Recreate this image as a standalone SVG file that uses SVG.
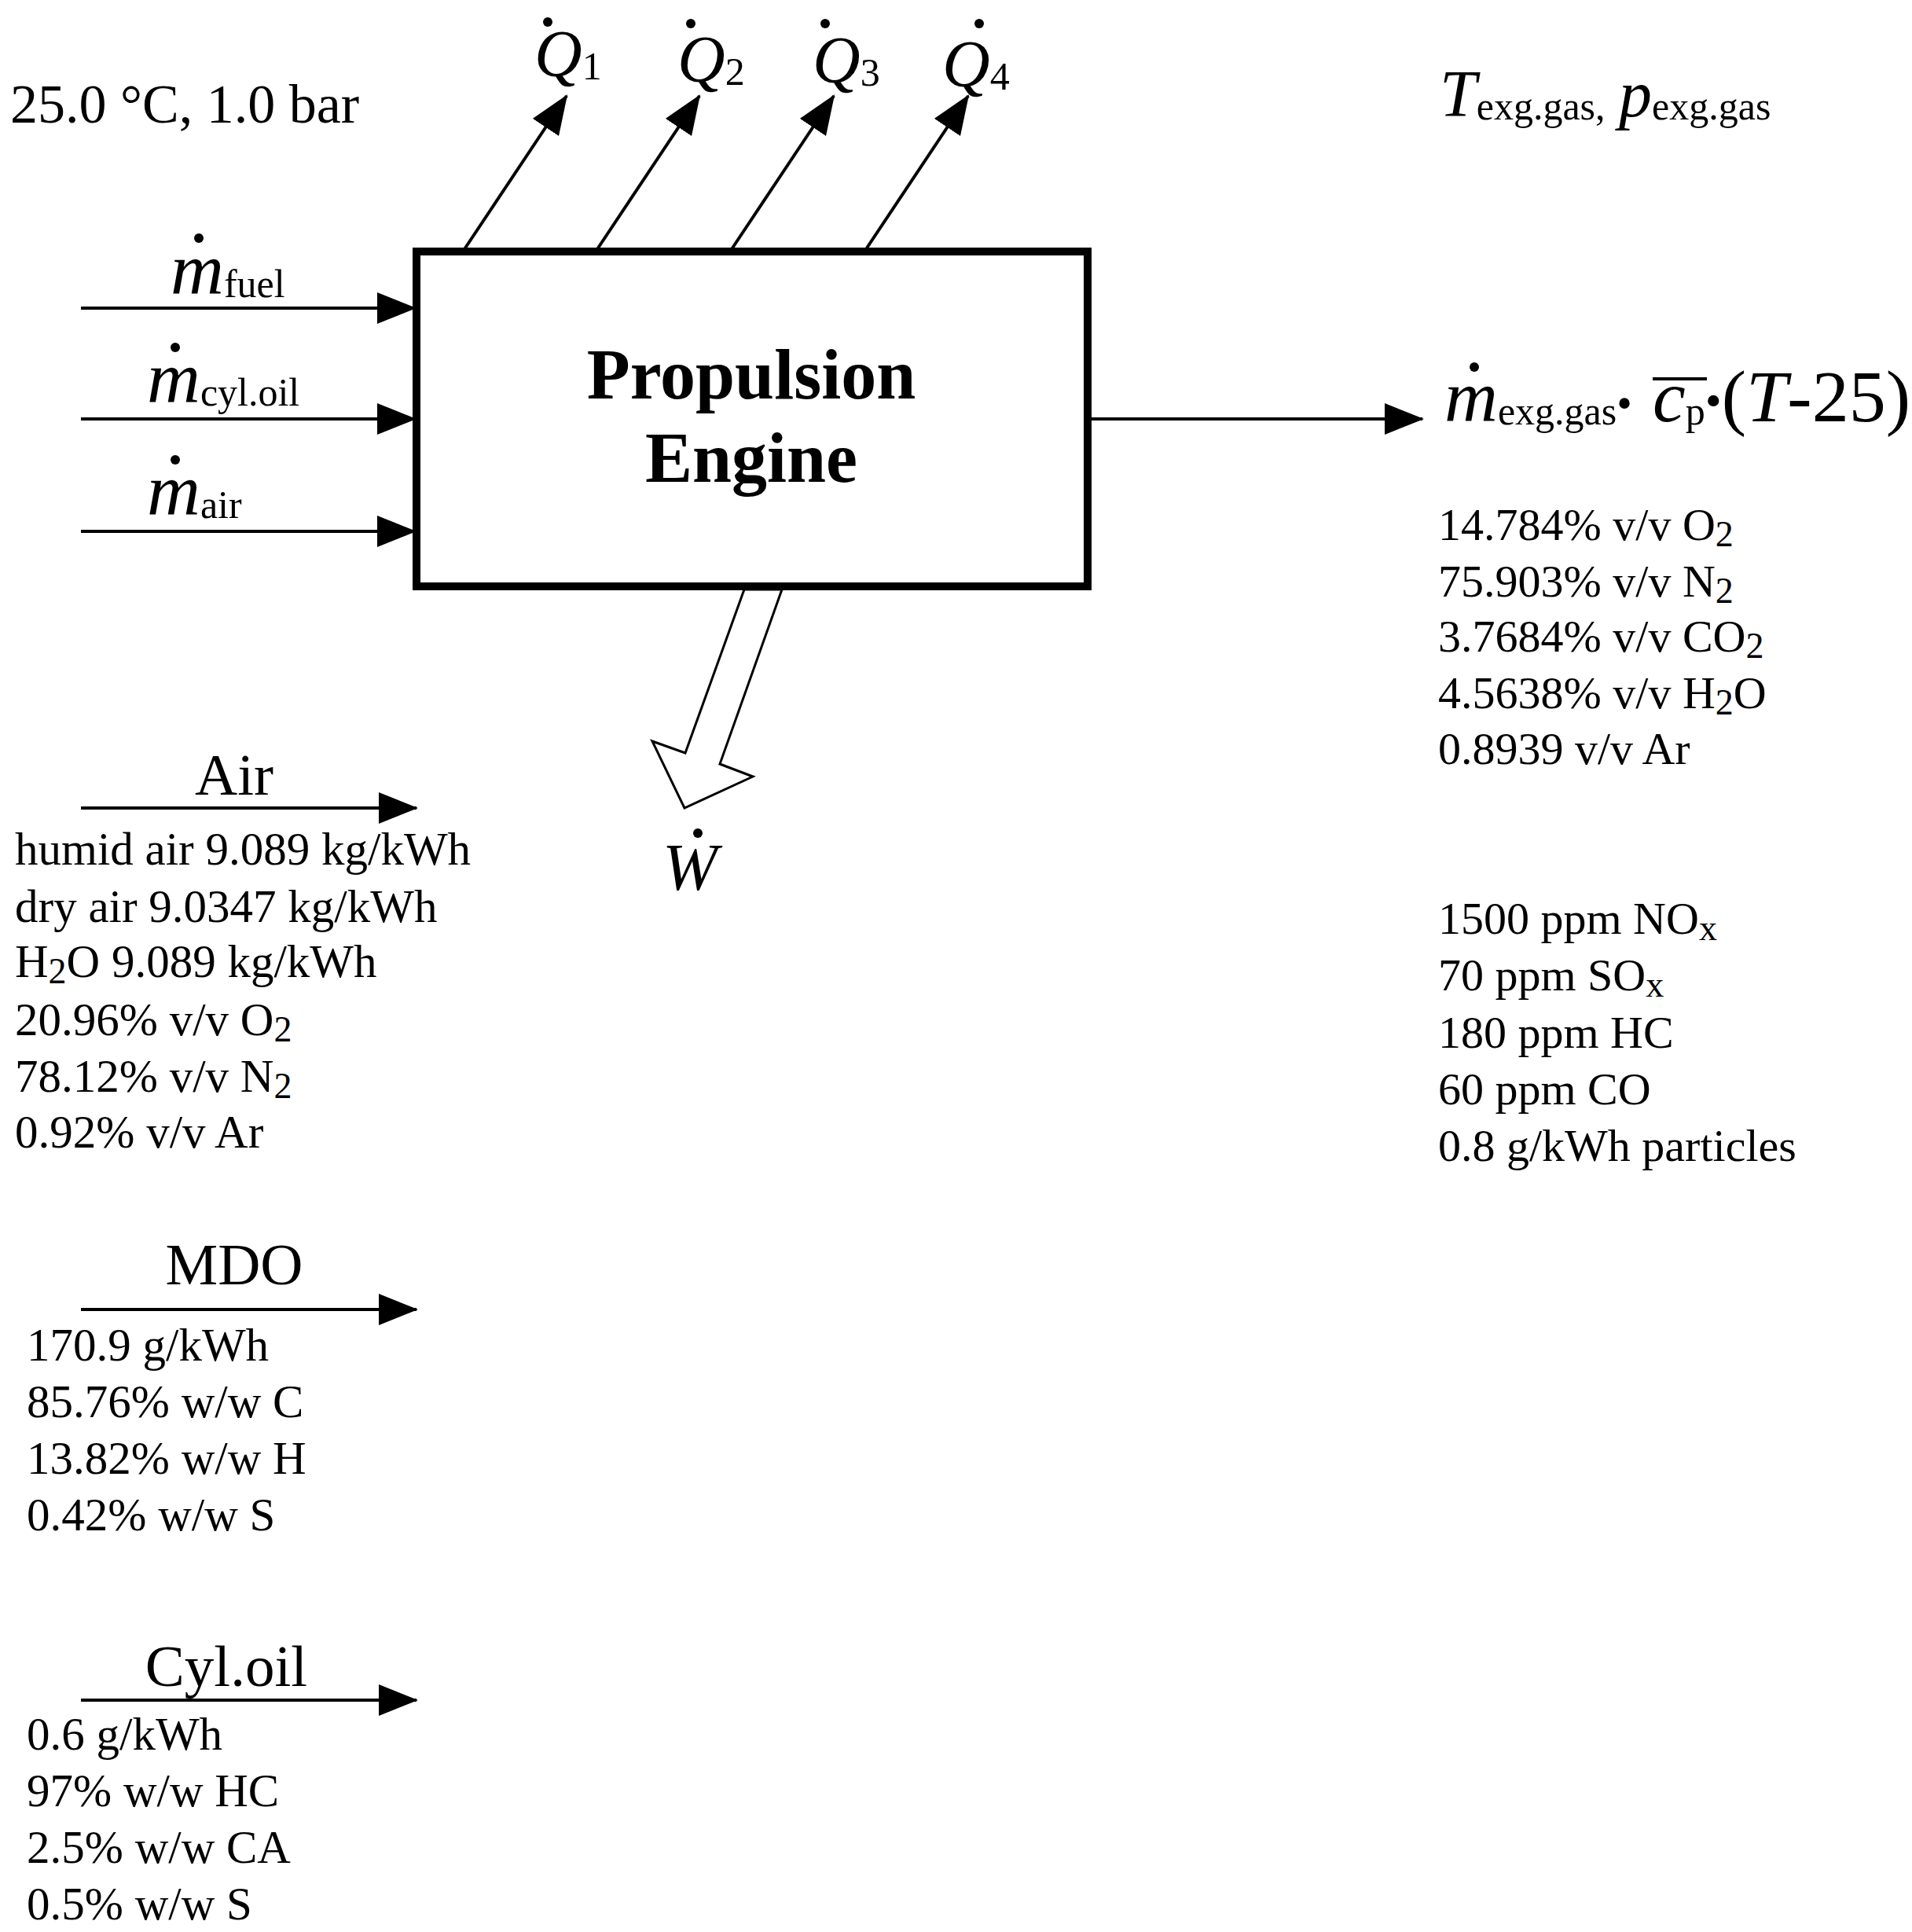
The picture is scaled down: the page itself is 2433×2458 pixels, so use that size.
<svg xmlns="http://www.w3.org/2000/svg" width="2433" height="2458" viewBox="0 0 2433 2458">
<style>
text{font-family:"Liberation Serif","Times New Roman",serif;fill:#000}
.t{font-size:59px}
.r{font-size:58px}
.h{font-size:75px}
.m{font-size:94px;font-style:italic}
.q{font-size:84px;font-style:italic}
.s{font-size:50px;font-style:normal}
.sl{font-size:46px}
.b{font-size:90px;font-weight:bold;text-anchor:middle}
.ln{stroke:#000;stroke-width:4;fill:none}
</style>
<defs>
<marker id="ar" markerUnits="userSpaceOnUse" markerWidth="50" markerHeight="40" refX="48" refY="20" orient="auto">
<path d="M0,0 L50,20 L0,40 Z" fill="#000"/>
</marker>
</defs>
<rect width="2433" height="2458" fill="#fff"/>
<g id="connectors">
<line class="ln" x1="103" y1="392" x2="528" y2="392" marker-end="url(#ar)"/>
<line class="ln" x1="103" y1="533" x2="528" y2="533" marker-end="url(#ar)"/>
<line class="ln" x1="103" y1="676" x2="528" y2="676" marker-end="url(#ar)"/>
<line class="ln" x1="1384" y1="533" x2="1810" y2="533" marker-end="url(#ar)"/>
<line class="ln" x1="591" y1="317" x2="721" y2="122" marker-end="url(#ar)"/>
<line class="ln" x1="760" y1="317" x2="890" y2="122" marker-end="url(#ar)"/>
<line class="ln" x1="931" y1="317" x2="1061" y2="122" marker-end="url(#ar)"/>
<line class="ln" x1="1102" y1="317" x2="1232" y2="122" marker-end="url(#ar)"/>
<polygon points="947,750 995,750 916,972 958,988 871,1028 830,943 872,958" fill="#fff" stroke="#000" stroke-width="3"/>
<line class="ln" x1="103" y1="1028" x2="530" y2="1028" marker-end="url(#ar)"/>
<line class="ln" x1="103" y1="1666" x2="530" y2="1666" marker-end="url(#ar)"/>
<line class="ln" x1="103" y1="2163" x2="530" y2="2163" marker-end="url(#ar)"/>
</g>
<g id="engine">
<rect x="530" y="320" width="854" height="426" fill="#fff" stroke="#000" stroke-width="10"/>
<text class="b" x="956" y="507">Propulsion</text>
<text class="b" x="956" y="613">Engine</text>
</g>
<g id="ambient"><text x="13" y="156" style="font-size:70px">25.0 °C, 1.0 bar</text></g>
<g id="heat">
<text x="680" y="97"><tspan class="q">Q</tspan><tspan class="s" dy="4">1</tspan></text>
<circle cx="697" cy="28" r="6"/>
<text x="862" y="104"><tspan class="q">Q</tspan><tspan class="s" dy="4">2</tspan></text>
<circle cx="879" cy="30" r="6"/>
<text x="1034" y="105"><tspan class="q">Q</tspan><tspan class="s" dy="4">3</tspan></text>
<circle cx="1050" cy="30" r="6"/>
<text x="1199" y="110"><tspan class="q">Q</tspan><tspan class="s" dy="4">4</tspan></text>
<circle cx="1246" cy="30" r="6"/>
</g>
<g id="inputs">
<text x="217" y="374"><tspan class="m">m</tspan><tspan class="s" dy="4">fuel</tspan></text>
<circle cx="253" cy="303" r="6"/>
<text x="187" y="512"><tspan class="m">m</tspan><tspan class="s" dy="4">cyl.oil</tspan></text>
<circle cx="223" cy="442" r="6"/>
<text x="187" y="655"><tspan class="m">m</tspan><tspan class="s" dy="4">air</tspan></text>
<circle cx="223" cy="585" r="6"/>
</g>
<g id="work">
<text class="q" x="843" y="1132">W</text>
<circle cx="888" cy="1060" r="6"/>
</g>
<g id="exhaust">
<text x="1832" y="148"><tspan class="q">T</tspan><tspan class="s" dy="4">exg.gas,</tspan><tspan class="q" x="2060" dy="-4">p</tspan><tspan class="s" dy="4">exg.gas</tspan></text>
<text x="1838" y="536"><tspan class="m">m</tspan><tspan class="s" dy="4">exg.gas</tspan><tspan style="font-size:56px" dy="-8">•</tspan><tspan class="m" x="2103" dy="4">c</tspan><tspan class="s" dy="4">p</tspan><tspan style="font-size:60px" dy="-10">•</tspan><tspan style="font-size:94px" dy="6">(<tspan font-style="italic">T</tspan>-25)</tspan></text>
<circle cx="1876" cy="467" r="6"/>
<line x1="2103" y1="482" x2="2172" y2="482" stroke="#000" stroke-width="4"/>
<text class="r" x="1830" y="687">14.784% v/v O<tspan class="sl" dy="8">2</tspan></text>
<text class="r" x="1830" y="759">75.903% v/v N<tspan class="sl" dy="8">2</tspan></text>
<text class="r" x="1830" y="829">3.7684% v/v CO<tspan class="sl" dy="8">2</tspan></text>
<text class="r" x="1830" y="901">4.5638% v/v H<tspan class="sl" dy="8">2</tspan><tspan dy="-8">O</tspan></text>
<text class="r" x="1830" y="972">0.8939 v/v Ar</text>
<text class="r" x="1830" y="1188">1500 ppm NO<tspan class="sl" dy="8">x</tspan></text>
<text class="r" x="1830" y="1260">70 ppm SO<tspan class="sl" dy="8">x</tspan></text>
<text class="r" x="1830" y="1333">180 ppm HC</text>
<text class="r" x="1830" y="1405">60 ppm CO</text>
<text class="r" x="1830" y="1477">0.8 g/kWh particles</text>
</g>
<g id="air">
<text class="h" x="298" y="1011" text-anchor="middle">Air</text>
<text class="t" x="19" y="1100">humid air 9.089 kg/kWh</text>
<text class="t" x="19" y="1173">dry air 9.0347 kg/kWh</text>
<text class="t" x="19" y="1243">H<tspan class="sl" dy="8">2</tspan><tspan dy="-8">O 9.089 kg/kWh</tspan></text>
<text class="t" x="19" y="1317">20.96% v/v O<tspan class="sl" dy="8">2</tspan></text>
<text class="t" x="19" y="1389">78.12% v/v N<tspan class="sl" dy="8">2</tspan></text>
<text class="t" x="19" y="1460">0.92% v/v Ar</text>
</g>
<g id="mdo">
<text class="h" x="298" y="1634" text-anchor="middle">MDO</text>
<text class="t" x="34" y="1731">170.9 g/kWh</text>
<text class="t" x="34" y="1803">85.76% w/w C</text>
<text class="t" x="34" y="1875">13.82% w/w H</text>
<text class="t" x="34" y="1947">0.42% w/w S</text>
</g>
<g id="cyloil">
<text class="h" x="288" y="2145" text-anchor="middle">Cyl.oil</text>
<text class="t" x="34" y="2226">0.6 g/kWh</text>
<text class="t" x="34" y="2298">97% w/w HC</text>
<text class="t" x="34" y="2370">2.5% w/w CA</text>
<text class="t" x="34" y="2442">0.5% w/w S</text>
</g>
</svg>
